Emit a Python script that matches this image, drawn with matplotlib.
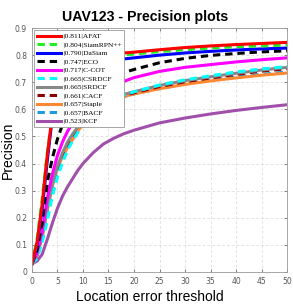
import matplotlib.pyplot as plt
from matplotlib.ticker import FuncFormatter

# location error thresholds (pixels)
thresholds = [0, 1, 2, 3, 4, 5, 6, 7, 8, 9, 10, 12, 14, 16, 18, 20, 25, 30, 35, 40, 45, 50]

trackers = ["AFAT", "SiamRPN++", "DaSiam", "ECO", "C-COT", "CSRDCF",
            "SRDCF", "CACF", "Staple", "BACF", "KCF"]
scores = [0.811, 0.804, 0.790, 0.747, 0.717, 0.665, 0.665, 0.661, 0.657, 0.657, 0.523]

afat = [0.03, 0.11, 0.25, 0.43, 0.58, 0.65, 0.70, 0.73, 0.75, 0.762, 0.772, 0.786,
        0.796, 0.803, 0.808, 0.811, 0.820, 0.828, 0.834, 0.839, 0.843, 0.847]
siamrpn = [0.03, 0.12, 0.27, 0.44, 0.575, 0.645, 0.69, 0.72, 0.74, 0.755, 0.765, 0.779,
           0.789, 0.796, 0.801, 0.804, 0.813, 0.820, 0.826, 0.831, 0.834, 0.837]
dasiam = [0.03, 0.10, 0.23, 0.41, 0.57, 0.63, 0.675, 0.70, 0.72, 0.735, 0.745, 0.76,
          0.772, 0.780, 0.786, 0.790, 0.800, 0.808, 0.814, 0.819, 0.823, 0.826]
eco = [0.03, 0.08, 0.18, 0.33, 0.42, 0.49, 0.545, 0.585, 0.615, 0.64, 0.658, 0.686,
       0.706, 0.722, 0.736, 0.747, 0.772, 0.788, 0.799, 0.806, 0.812, 0.816]
ccot = [0.03, 0.07, 0.15, 0.27, 0.36, 0.43, 0.48, 0.52, 0.55, 0.575, 0.598, 0.635,
        0.662, 0.685, 0.703, 0.717, 0.740, 0.755, 0.765, 0.775, 0.783, 0.790]
csrdcf = [0.03, 0.05, 0.11, 0.19, 0.28, 0.35, 0.405, 0.45, 0.485, 0.515, 0.54, 0.585,
          0.616, 0.637, 0.652, 0.665, 0.690, 0.709, 0.724, 0.738, 0.749, 0.758]
srdcf = [0.03, 0.06, 0.13, 0.23, 0.32, 0.39, 0.44, 0.48, 0.51, 0.535, 0.555, 0.592,
         0.620, 0.640, 0.655, 0.665, 0.688, 0.706, 0.720, 0.733, 0.745, 0.755]
cacf = [0.03, 0.06, 0.13, 0.23, 0.32, 0.385, 0.435, 0.475, 0.505, 0.53, 0.55, 0.588,
        0.616, 0.636, 0.651, 0.661, 0.684, 0.702, 0.716, 0.729, 0.741, 0.750]
staple = [0.03, 0.06, 0.13, 0.23, 0.32, 0.385, 0.425, 0.46, 0.49, 0.52, 0.545, 0.585,
          0.613, 0.633, 0.647, 0.657, 0.676, 0.692, 0.705, 0.716, 0.726, 0.734]
bacf = [0.03, 0.055, 0.12, 0.21, 0.30, 0.37, 0.42, 0.46, 0.49, 0.52, 0.545, 0.585,
        0.613, 0.633, 0.647, 0.657, 0.677, 0.694, 0.708, 0.719, 0.729, 0.738]
kcf = [0.03, 0.04, 0.065, 0.12, 0.18, 0.235, 0.28, 0.315, 0.345, 0.375, 0.40, 0.44,
       0.472, 0.493, 0.510, 0.523, 0.550, 0.568, 0.583, 0.596, 0.607, 0.617]

curves = [afat, siamrpn, dasiam, eco, ccot, csrdcf, srdcf, cacf, staple, bacf, kcf]
colors = ["#ff0000", "#22ee22", "#0000ff", "#000000", "#ff00ff", "#00ffff",
          "#888888", "#8b0000", "#ff8833", "#1e9be0", "#a050aa"]
styles = ["-", "--", "-", "--", "-", "--", "-", "--", "-", "--", "-"]

fig = plt.figure(figsize=(2.93, 3.08), dpi=100)
ax = fig.add_axes([0.109, 0.117, 0.871, 0.792])

# draw from last to first so the best tracker sits on top
for i in reversed(range(len(trackers))):
    ax.plot(thresholds, curves[i], color=colors[i], linestyle=styles[i], lw=2.2,
            dashes=(2.4, 1.6) if styles[i] == "--" else (None, None),
            label=f"|{scores[i]:.3f}|{trackers[i]}")

ax.set_xlim(0, 50)
ax.set_ylim(0, 0.9)
ax.set_xticks(range(0, 51, 5))
ax.set_yticks([i / 10 for i in range(10)])
ax.yaxis.set_major_formatter(FuncFormatter(lambda v, _: "0" if v == 0 else f"{v:.1f}"))
ax.tick_params(direction="in", length=2.5, width=0.5, labelsize=5.5,
               colors="#555555", top=True, right=True, labeltop=False, labelright=False)
ax.grid(True, linestyle=(0, (4, 3)), color="#d8d8d8", lw=0.5)
for sp in ax.spines.values():
    sp.set_color("#999999")
    sp.set_linewidth(0.6)

ax.set_title("UAV123 - Precision plots", fontsize=10.2, fontweight="bold",
             family="Liberation Sans", x=0.443, pad=5)
ax.set_xlabel("Location error threshold", fontsize=10, family="Liberation Sans")
ax.set_ylabel("Precision", fontsize=10, family="Liberation Sans")
ax.xaxis.set_label_coords(0.463, -0.075)
ax.yaxis.set_label_coords(-0.068, 0.5)

handles, labels = ax.get_legend_handles_labels()
leg = ax.legend(handles[::-1], labels[::-1], loc="upper left",
                prop={"family": "Liberation Serif", "size": 5.4},
                handlelength=3.2, handletextpad=0.3, labelspacing=0.3,
                borderpad=0.35, borderaxespad=0.3, fancybox=False, framealpha=1)
leg.get_frame().set_edgecolor("#999999")
leg.get_frame().set_linewidth(0.6)

fig.savefig("out.png", dpi=100)
